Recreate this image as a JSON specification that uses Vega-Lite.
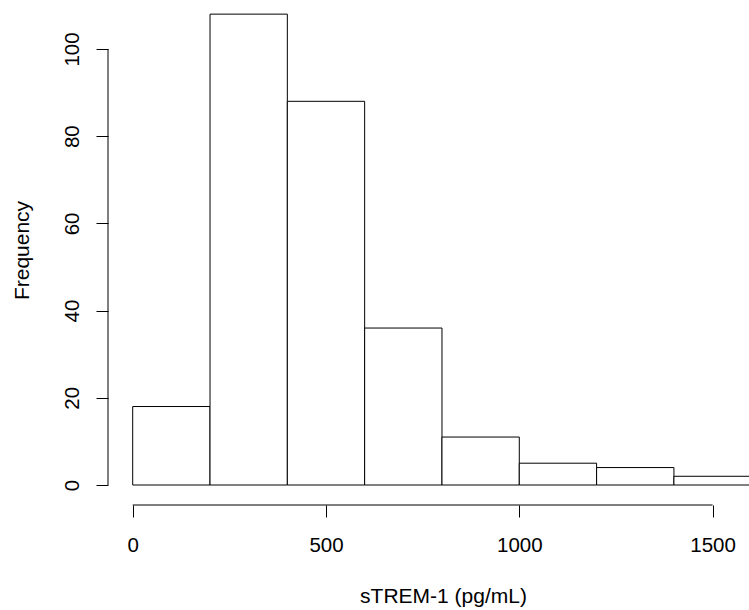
{
  "$schema": "https://vega.github.io/schema/vega-lite/v6.json",
  "autosize": {"type": "none"},
  "padding": {"left": 108, "top": 0, "right": 0, "bottom": 105},
  "width": 641,
  "height": 505,
  "background": "white",
  "config": {
    "view": {"stroke": null},
    "font": "Liberation Sans",
    "axis": {"grid": false, "domain": false, "tickColor": "#000", "tickSize": 12, "tickWidth": 1, "labelColor": "#000", "labelFont": "Liberation Sans", "labelFontSize": 20.5, "titleFont": "Liberation Sans", "titleFontSize": 21, "titleFontWeight": "normal", "titleColor": "#000"}
  },
  "layer": [
    {
      "data": {"values": [
        {"start": 0, "end": 200, "count": 18},
        {"start": 200, "end": 400, "count": 108},
        {"start": 400, "end": 600, "count": 88},
        {"start": 600, "end": 800, "count": 36},
        {"start": 800, "end": 1000, "count": 11},
        {"start": 1000, "end": 1200, "count": 5},
        {"start": 1200, "end": 1400, "count": 4},
        {"start": 1400, "end": 1600, "count": 2}
      ]},
      "mark": {"type": "rect", "fill": "white", "stroke": "#000", "strokeWidth": 1, "clip": true},
      "encoding": {
        "x": {"field": "start", "type": "quantitative",
              "scale": {"domain": [-63.9, 1594.2], "nice": false, "zero": false},
              "axis": {"values": [0, 500, 1000, 1500], "format": "d", "title": "sTREM-1 (pg/mL)", "labelBaseline": "alphabetic", "labelAlign": "center", "labelPadding": 34, "labelFlush": false, "labelOverlap": false, "titleX": 335, "titleY": 97, "titleAlign": "center", "titleBaseline": "alphabetic"}},
        "x2": {"field": "end"},
        "y": {"field": "count", "type": "quantitative",
              "scale": {"domain": [-4.587, 111.24], "nice": false, "zero": false},
              "axis": {"values": [0, 20, 40, 60, 80, 100], "format": "d", "title": "Frequency", "labelAngle": -90, "labelAlign": "center", "labelBaseline": "alphabetic", "labelPadding": 18, "labelFlush": false, "labelOverlap": false, "titleAngle": 270, "titleX": -80, "titleY": 250, "titleAlign": "center", "titleBaseline": "alphabetic"}},
        "y2": {"datum": 0}
      }
    },
    {
      "data": {"values": [{"a": 0, "b": 1500, "ybase": -4.587}]},
      "mark": {"type": "rule", "color": "#000", "strokeWidth": 1},
      "encoding": {
        "x": {"field": "a", "type": "quantitative"},
        "x2": {"field": "b"},
        "y": {"field": "ybase", "type": "quantitative"}
      }
    },
    {
      "data": {"values": [{"xbase": -63.9, "a": 0, "b": 100}]},
      "mark": {"type": "rule", "color": "#000", "strokeWidth": 1},
      "encoding": {
        "x": {"field": "xbase", "type": "quantitative"},
        "y": {"field": "a", "type": "quantitative"},
        "y2": {"field": "b"}
      }
    }
  ]
}
